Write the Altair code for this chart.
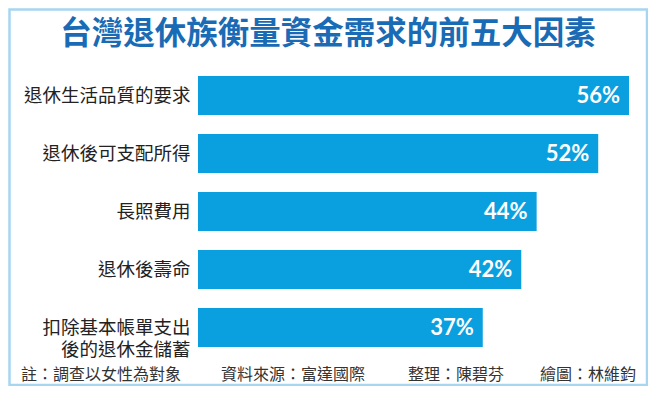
import altair as alt
import pandas as pd

categories = ["退休生活品質的要求", "退休後可支配所得", "長照費用", "退休後壽命", "扣除基本帳單支出\n後的退休金儲蓄"]
values = [56, 52, 44, 42, 37]
labels = ["56%", "52%", "44%", "42%", "37%"]
title_text = "台灣退休族衡量資金需求的前五大因素"
footer = ["註：調查以女性為對象", "資料來源：富達國際", "整理：陳碧芬", "繪圖：林維鈞"]
footer_x = [-177, 23, 210, 342]

CJK = "Noto Sans CJK TC"
df = pd.DataFrame({"cat": categories, "val": values, "lab": labels})

y = alt.Y(
    "cat:N",
    sort=categories,
    scale=alt.Scale(paddingInner=0.33, paddingOuter=0.165),
    axis=alt.Axis(
        title=None, domain=False, ticks=False, labelPadding=8,
        labelFontSize=18.5, labelColor="#222222", labelFont=CJK,
        labelExpr="split(datum.label, '\\n')", labelLineHeight=22.5,
        labelLimit=300,
    ),
)
x = alt.X("val:Q", scale=alt.Scale(domain=[0, 56], nice=False), axis=None)

bars = alt.Chart(df).mark_bar(color="#0aa0e0").encode(x=x, y=y)
vals = alt.Chart(df).mark_text(
    align="right", dx=-9, color="white", fontSize=22, fontWeight="bold", font="Lato"
).encode(x=x, y=y, text="lab:N")

title = alt.Chart(pd.DataFrame({"t": [title_text]})).mark_text(
    fontSize=31.5, fontWeight="bold", color="#1a6bb5", font=CJK, baseline="middle"
).encode(x=alt.value(130), y=alt.value(-32), text="t:N")

layers = [bars, vals, title]
for s, fx in zip(footer, footer_x):
    layers.append(
        alt.Chart(pd.DataFrame({"t": [s]})).mark_text(
            fontSize=16, color="#333333", font=CJK, align="left", baseline="middle"
        ).encode(x=alt.value(fx), y=alt.value(308), text="t:N")
    )

frame = alt.Chart(pd.DataFrame({"a": [0]})).mark_rect(
    fillOpacity=0, stroke="#a6d6f0", strokeWidth=2.5
).encode(x=alt.value(-188.5), x2=alt.value(449), y=alt.value(-57), y2=alt.value(318.5))
layers.append(frame)

chart = alt.layer(*layers).properties(
    width=431, height=290,
    autosize=alt.AutoSizeParams(type="none"),
    padding={"left": 190, "top": 58.5, "right": 19, "bottom": 29.5},
    background="white",
).configure_view(stroke=None)

chart.save("out.html", embed_options={"renderer": "svg", "actions": False})
